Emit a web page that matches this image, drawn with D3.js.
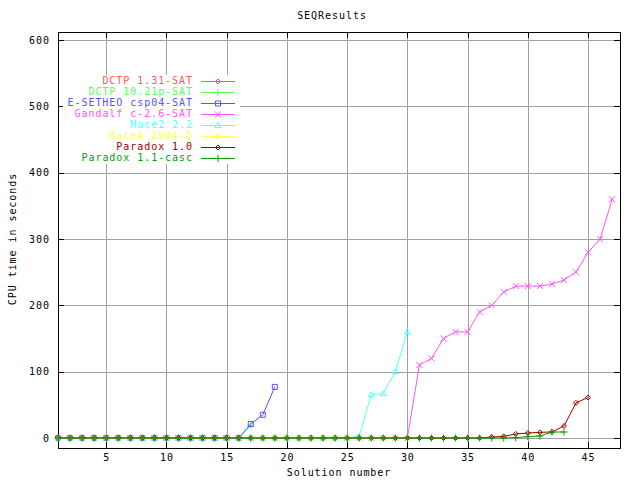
<!DOCTYPE html>
<html><head><meta charset="utf-8">
<script src="https://cdn.jsdelivr.net/npm/d3@7"></script>
<style>
html,body{margin:0;padding:0;background:#fff;}
svg text{font-family:"DejaVu Sans Mono",monospace;font-size:10px;letter-spacing:0.95px;}
</style></head>
<body><svg id="c" width="640" height="480"></svg>
<script>
// ---- data (value per solution number, starting at 1) ----
const seriesNames = ["DCTP 1.31-SAT","DCTP 10.21p-SAT","E-SETHEO csp04-SAT","Gandalf c-2.6-SAT","Mace2 2.2","Mace4 2004-D","Paradox 1.0","Paradox 1.1-casc"];
const dctp131  = [0,0,0,0,0,0,0,0,0,0,0,0,0,0,0,0];
const dctp1021 = [0,0,0,0,0,0,0,0,0,0,0,0,0,0,0,0,19];
const esetheo  = [0,0,0,0,0,0,0,0,0,0,0,0,0,0,0,0,21,35,77];
const gandalf  = [0,0,0,0,0,0,0,0,0,0,0,0,0,0,0,0,0,0,0,0,0,0,0,0,0,0,0,0,0,0,
                  110,120,150,160,160,190,200,220,229,229,229,232,238,250,280,300,360];
const mace2    = [0,0,0,0,0,0,0,0,0,0,0,0,0,0,0,0,0,0,0,0,0,0,0,0,0,3,65,67,100,160];
const mace4    = [0,0,0,0,0,0,0,0,0,0,0,0,0,0,0,0,0,0,0,0,0,0,0,0,0,0,0,0,0,0];
const paradox10= [0,0,0,0,0,0,0,0,0,0,0,0,0,0,0,0,0,0,0,0,0,0,0,0,0,0,0,0,0,0,0,0,0,0,0,0,
                  1.5,2.5,6,7.5,8.5,9,18,53,61];
const paradox11= [0,0,0,0,0,0,0,0,0,0,0,0,0,0,0,0,0,0,0,0,0,0,0,0,0,0,0,0,0,0,0,0,0,0,0,0,0,0,
                  0.5,2,3,9,9];
const seriesValues = [dctp131,dctp1021,esetheo,gandalf,mace2,mace4,paradox10,paradox11];
const xTicks = [5,10,15,20,25,30,35,40,45];
const yTicks = [0,100,200,300,400,500,600];
const title = "SEQResults";
const xLabel = "Solution number";
const yLabel = "CPU time in seconds";

// ---- styles ----
const colors = ["#ff5555","#55ff55","#5555ff","#ff55ff","#55ffff","#ffff55","#a00000","#00a000"];
const markers = ["diamond","plus","box","cross","triangle","star","diamond","plus"];

const L=58, R=620, T=32, B=448;
const x = d3.scaleLinear().domain([1,47.65]).range([L,R]);
const y = d3.scaleLinear().domain([-15.1,612.1]).range([B,T]);
const svg = d3.select("#c");

// grid
const g = svg.append("g").attr("shape-rendering","crispEdges");
g.selectAll(".vg").data(xTicks).join("line")
  .attr("x1",d=>Math.round(x(d))+0.5).attr("x2",d=>Math.round(x(d))+0.5)
  .attr("y1",T).attr("y2",B).attr("stroke","#a0a0a0");
g.selectAll(".hg").data(yTicks).join("line")
  .attr("y1",d=>Math.round(y(d))+0.5).attr("y2",d=>Math.round(y(d))+0.5)
  .attr("x1",L).attr("x2",R).attr("stroke","#a0a0a0");

// axes using d3 axis (ticks inside, mirrored)
function styleAxis(sel){
  sel.select(".domain").remove();
  sel.selectAll(".tick line").attr("stroke","#000").attr("shape-rendering","crispEdges");
  sel.selectAll(".tick text").attr("fill","#000").style("font-family","DejaVu Sans Mono").style("font-size","10px");
}
const ax = svg.append("g").attr("transform",`translate(0,${B})`)
  .call(d3.axisBottom(x).tickValues(xTicks).tickSizeInner(-6).tickSizeOuter(0).tickPadding(6).tickFormat(d3.format("d")));
styleAxis(ax);
const axT = svg.append("g").attr("transform",`translate(0,${T})`)
  .call(d3.axisTop(x).tickValues(xTicks).tickSizeInner(-6).tickSizeOuter(0).tickFormat(""));
styleAxis(axT);
const ay = svg.append("g").attr("transform",`translate(${L},0)`)
  .call(d3.axisLeft(y).tickValues(yTicks).tickSizeInner(-6).tickSizeOuter(0).tickPadding(8).tickFormat(d3.format("d")));
styleAxis(ay);
const ayR = svg.append("g").attr("transform",`translate(${R},0)`)
  .call(d3.axisRight(y).tickValues(yTicks).tickSizeInner(-6).tickSizeOuter(0).tickFormat(""));
styleAxis(ayR);

// frame
svg.append("rect").attr("x",L+0.5).attr("y",T+0.5).attr("width",R-L).attr("height",B-T)
  .attr("fill","none").attr("stroke","#000").attr("shape-rendering","crispEdges");

// marker path
function markerPath(type,cx,cy){
  const p=d3.path();
  if(type==="diamond"){p.moveTo(cx,cy-2.5);p.lineTo(cx+2.5,cy);p.lineTo(cx,cy+2.5);p.lineTo(cx-2.5,cy);p.closePath();}
  else if(type==="plus"){p.moveTo(cx-3.5,cy);p.lineTo(cx+3.5,cy);p.moveTo(cx,cy-3.5);p.lineTo(cx,cy+3.5);}
  else if(type==="box"){p.rect(cx-2.5,cy-2.5,5,5);}
  else if(type==="cross"){p.moveTo(cx-3,cy-3);p.lineTo(cx+3,cy+3);p.moveTo(cx-3,cy+3);p.lineTo(cx+3,cy-3);}
  else if(type==="triangle"){p.moveTo(cx,cy-3);p.lineTo(cx+3,cy+2);p.lineTo(cx-3,cy+2);p.closePath();}
  else if(type==="star"){p.moveTo(cx-3,cy);p.lineTo(cx+3,cy);p.moveTo(cx,cy-3);p.lineTo(cx,cy+3);
    p.moveTo(cx-2.5,cy-2.5);p.lineTo(cx+2.5,cy+2.5);p.moveTo(cx-2.5,cy+2.5);p.lineTo(cx+2.5,cy-2.5);}
  return p.toString();
}

// series
const line = d3.line().x((d,i)=>x(i+1)).y(d=>y(d));
seriesValues.forEach((vals,k)=>{
  const sg = svg.append("g");
  sg.append("path").attr("d",line(vals)).attr("fill","none").attr("stroke",colors[k]).attr("stroke-width",1);
  sg.selectAll("path.m").data(vals).join("path").attr("class","m")
    .attr("d",(d,i)=>markerPath(markers[k],x(i+1),y(d)))
    .attr("fill","none").attr("stroke",colors[k]).attr("stroke-width",1);
});

// legend (opaque box)
svg.append("rect").attr("x",63).attr("y",75).attr("width",177).attr("height",89).attr("fill","#fff");
seriesNames.forEach((n,k)=>{
  const ly = 80.5 + k*11;
  svg.append("text").attr("x",193).attr("y",ly).attr("text-anchor","end")
    .attr("dominant-baseline","central").attr("fill",colors[k]).text(n);
  svg.append("line").attr("x1",201).attr("x2",235).attr("y1",Math.round(ly)+0.5).attr("y2",Math.round(ly)+0.5)
    .attr("stroke",colors[k]);
  svg.append("path").attr("d",markerPath(markers[k],218,Math.round(ly)+0.5)).attr("fill","none").attr("stroke",colors[k]);
});

// titles
svg.append("text").attr("x",332).attr("y",15).attr("text-anchor","middle").attr("dominant-baseline","central").text(title);
svg.append("text").attr("x",339).attr("y",472).attr("text-anchor","middle").attr("dominant-baseline","central").text(xLabel);
svg.append("text").attr("transform","translate(12,239) rotate(-90)").attr("text-anchor","middle").attr("dominant-baseline","central").text(yLabel);
</script></body></html>
